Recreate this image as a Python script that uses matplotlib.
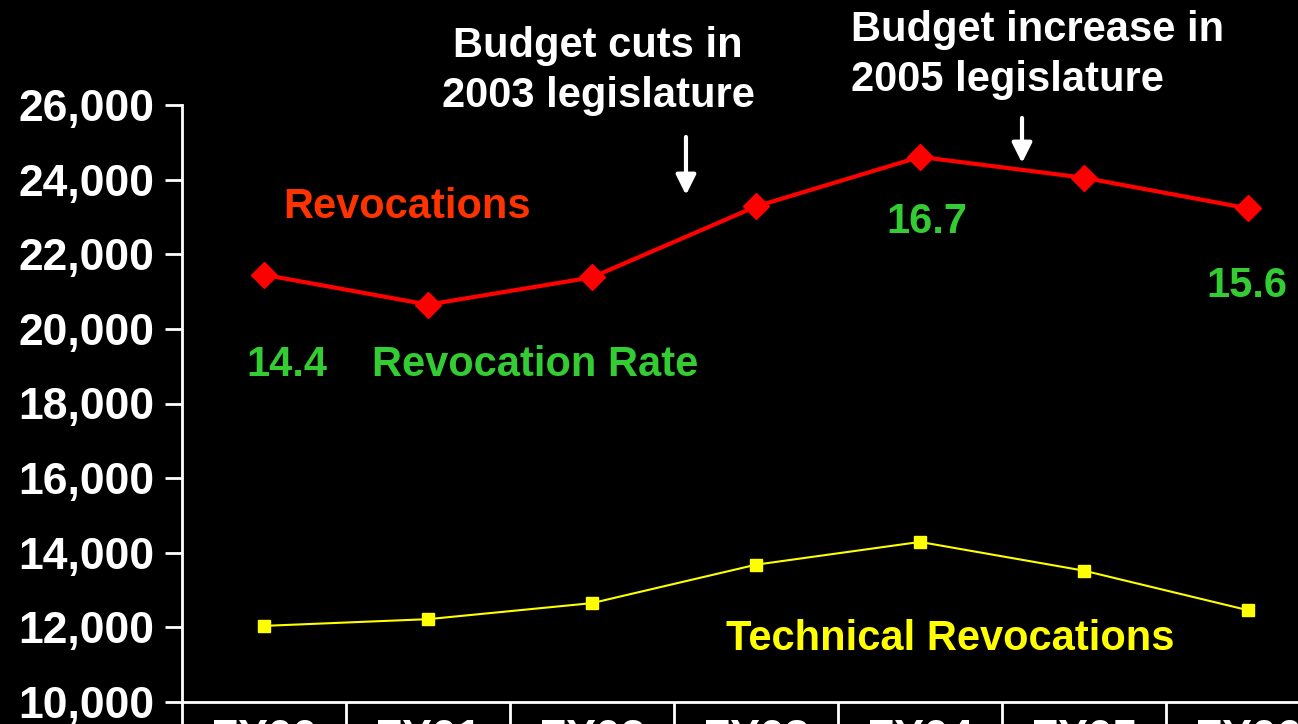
import matplotlib.pyplot as plt
from matplotlib.ticker import FuncFormatter, FixedLocator

years = ['FY00', 'FY01', 'FY02', 'FY03', 'FY04', 'FY05', 'FY06']
revocations = [21450, 20650, 21380, 23280, 24610, 24050, 23230]
technical = [12040, 12220, 12650, 13680, 14290, 13520, 12460]

plt.rcParams['font.family'] = ['Liberation Sans', 'DejaVu Sans']
plt.rcParams['font.weight'] = 'bold'

fig = plt.figure(figsize=(12.98, 7.24), dpi=100, facecolor='black')
ax = fig.add_axes([182 / 1298, 22 / 724, 1148 / 1298, 597 / 724], facecolor='black')

x = list(range(len(years)))
ax.plot(x, revocations, color='#ff0000', lw=3, marker='D', ms=13, zorder=3)
ax.plot(x, technical, color='#ffff00', lw=1.5, marker='s', ms=8.5, zorder=3)

ax.set_xlim(-0.5, 6.5)
ax.set_ylim(10000, 26000)
ax.set_yticks(range(10000, 26001, 2000))
ax.yaxis.set_major_formatter(FuncFormatter(lambda v, p: f'{int(v):,}'))
ax.set_xticks(x)
ax.set_xticklabels(years)
ax.xaxis.set_minor_locator(FixedLocator([i + 0.5 for i in range(-1, 7)]))

for s in ['top', 'right']:
    ax.spines[s].set_visible(False)
for s in ['left', 'bottom']:
    ax.spines[s].set_color('white')
    ax.spines[s].set_linewidth(2)

ax.tick_params(axis='y', colors='white', labelsize=32, length=12, width=2, pad=8)
ax.tick_params(axis='x', which='major', colors='white', labelsize=32, length=0, pad=12)
ax.tick_params(axis='x', which='minor', colors='white', length=40, width=2)

txt = dict(fontsize=30, fontweight='bold', ha='center', va='center', clip_on=False)
ax.text(2.037, 26900, 'Budget cuts in\n2003 legislature', color='white',
        linespacing=1.32, **txt)
ax.text(3.579, 27330, 'Budget increase in\n2005 legislature', color='white',
        fontsize=30, fontweight='bold', ha='left', va='center', linespacing=1.32,
        clip_on=False)
ax.text(0.872, 23270, 'Revocations', color='#ff3300', **txt)
ax.text(0.140, 19020, '14.4', color='#33cc33', **txt)
ax.text(1.652, 19020, 'Revocation Rate', color='#33cc33', **txt)
ax.text(4.043, 22860, '16.7', color='#33cc33', **txt)
ax.text(5.994, 21140, '15.6', color='#33cc33', **txt)
ax.text(4.183, 11700, 'Technical Revocations', color='#ffff00', **txt)

arrow = dict(arrowstyle='-|>', color='white', lw=3, mutation_scale=30,
             shrinkA=0, shrinkB=0)
ax.annotate('', xy=(2.573, 23589), xytext=(2.573, 25143), arrowprops=arrow)
ax.annotate('', xy=(4.622, 24446), xytext=(4.622, 25653), arrowprops=arrow)

fig.savefig('out.png', dpi=100, facecolor='black')
